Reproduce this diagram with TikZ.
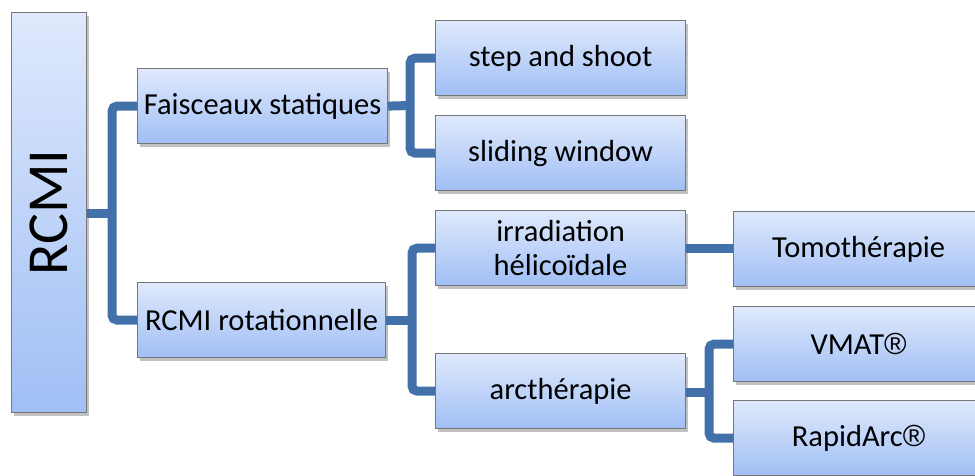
\documentclass[tikz,border=0pt]{standalone}
\usepackage{fontspec}
\usepackage{graphicx}
\setmainfont{Carlito}
\newfontfamily\regfont{Liberation Sans}
\usetikzlibrary{shadows}
\definecolor{BoxTop}{RGB}{223,233,252}
\definecolor{BoxBottom}{RGB}{160,191,245}
\definecolor{BoxLine}{RGB}{118,118,118}
\definecolor{LinkBlue}{RGB}{66,113,170}
\newcommand{\regmark}{{\regfont ®}}

\begin{document}
\begin{tikzpicture}[x=1pt,y=1pt,yscale=-1,xscale=1,
	box/.style={draw=BoxLine, line width=1.2pt, top color=BoxTop, bottom color=BoxBottom,
		minimum width=250pt, minimum height=75pt, inner sep=0pt, anchor=north west,
		align=center, font=\fontsize{30.5}{34}\selectfont,
		drop shadow={shadow xshift=2pt, shadow yshift=-3pt, opacity=0.35, fill=black!70}},
	link/.style={draw=LinkBlue, line width=9pt, rounded corners=5pt}]
		% Picture frame: the right and bottom boxes are cut by the edge
		\path[use as bounding box, clip] (0,0) rectangle (975,475);

		% Root box, tall and narrow, text turned upwards
		\node[box, minimum width=75pt, minimum height=400pt] (rcmi) at (11,12) {\fontsize{58}{60}\selectfont\rotatebox{90}{RCMI}};

		% First level
		\node[box] (fs) at (137,68) {Faisceaux statiques};
		\node[box, minimum width=248pt] (rr) at (137,282) {RCMI rotationnelle};

		% Second level
		\node[box] (ss) at (435,20) {step and shoot};
		\node[box] (sw) at (435,115) {sliding window};
		\node[box] (ih) at (435,210) {irradiation\\h\'elico\"idale};
		\node[box] (arc) at (435,353) {arcth\'erapie};

		% Third level
		\node[box] (tomo) at (733,211) {Tomoth\'erapie};
		\node[box] (vmat) at (733,306) {VMAT\regmark};
		\node[box] (rapid) at (733,400) {RapidArc\regmark};

		% Joints where the links split
		\coordinate (j1) at (112,213);
		\coordinate (j2) at (410,105.5);
		\coordinate (j3) at (412,320);
		\coordinate (j4) at (709,392);

		% Links root -> first level
		\draw[link] (rcmi.east |- j1) -- (j1);
		\draw[link] (fs.west) -| (j1) |- (rr.west);

		% Links first level -> second level
		\draw[link] (fs.east) -- (j2);
		\draw[link] (ss.west) -| (j2) |- (sw.west);
		\draw[link] (rr.east |- j3) -- (j3);
		\draw[link] (ih.west) -| (j3) |- (arc.west);

		% Links second level -> third level
		\draw[link] (ih.east) -- (ih.east -| tomo.west);
		\draw[link] (arc.east |- j4) -- (j4);
		\draw[link] (vmat.west) -| (j4) |- (rapid.west);
	\end{tikzpicture}
\end{document}
